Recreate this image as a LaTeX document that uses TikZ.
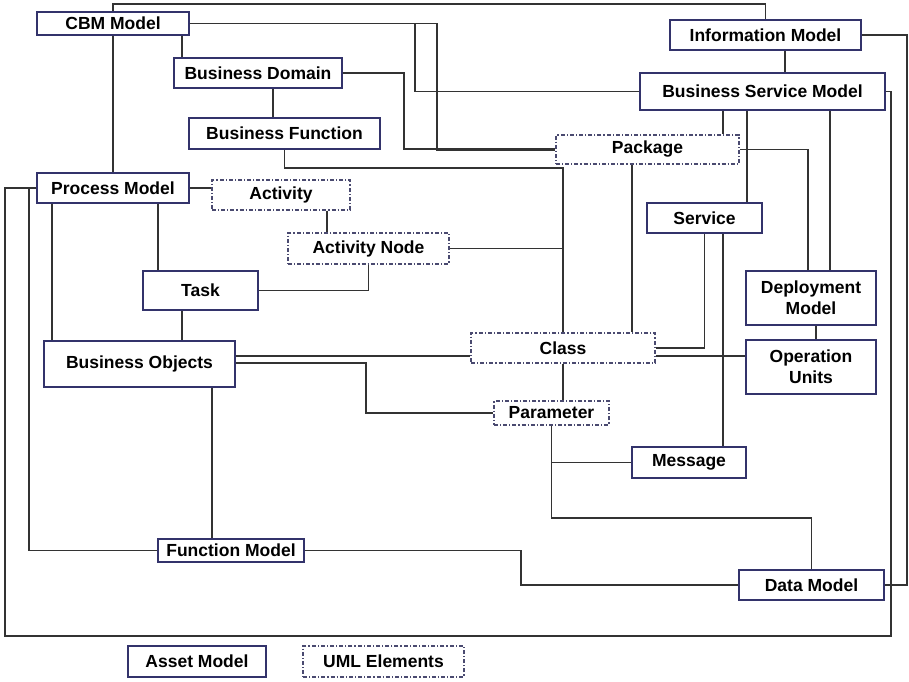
\documentclass[tikz,border=0pt]{standalone}
\usepackage{fontspec}
\setmainfont{Liberation Sans}
\definecolor{boxc}{HTML}{33336B}
\definecolor{dashc}{HTML}{4A4A70}
\definecolor{linec}{HTML}{333333}
\begin{document}
\begin{tikzpicture}[x=1pt,y=-1pt,
  base/.style={fill=white,inner sep=0pt,align=center,font=\bfseries\fontsize{17.5}{21}\selectfont},
  asset/.style={base,draw=boxc,line width=1.2pt},
  uml/.style={base,draw=dashc,line width=1.1pt,dash pattern=on 4pt off 2pt on 1.2pt off 2pt},
  conn/.style={draw=linec,line width=1.2pt},
  sz/.style 2 args={minimum width=#1,minimum height=#2}]
\useasboundingbox (0,0) rectangle (909,681);
% nodes
\node[asset,sz={152}{23}] (cbm) at (113,23.5) {CBM Model};
\node[asset,sz={168}{30}] (bdom) at (258,73) {Business Domain};
\node[asset,sz={191}{31}] (bfun) at (284.5,133.5) {Business Function};
\node[asset,sz={152}{30}] (proc) at (113,188) {Process Model};
\node[uml,sz={138}{30}] (act) at (281,195) {Activity};
\node[uml,sz={161}{31}] (actn) at (368.5,248.5) {Activity Node};
\node[asset,sz={115}{39}] (task) at (200.5,290.5) {Task};
\node[asset,sz={191}{46}] (bobj) at (139.5,364) {Business Objects};
\node[asset,sz={191}{30}] (info) at (765.5,35) {Information Model};
\node[asset,sz={245}{37}] (bsm) at (762.5,91.5) {Business Service Model};
\node[uml,sz={183}{29}] (pkg) at (647.5,149.5) {Package};
\node[asset,sz={115}{30}] (svc) at (704.5,218) {Service};
\node[asset,sz={130}{54}] (dep) at (811,298) {Deployment\\Model};
\node[asset,sz={130}{54}] (opu) at (811,367) {Operation\\Units};
\node[uml,sz={184}{30}] (cls) at (563,348) {Class};
\node[uml,sz={115}{24}] (par) at (551.5,413) {Parameter};
\node[asset,sz={114}{31}] (msg) at (689,462.5) {Message};
\node[asset,sz={145}{30}] (data) at (811.5,585) {Data Model};
\node[asset,sz={146}{23}] (fun) at (231,550.5) {Function Model};
\node[asset,sz={138}{31}] (assetm) at (197,661.5) {Asset Model};
\node[uml,sz={161}{31}] (umle) at (383.5,661.5) {UML Elements};
% connectors
\begin{scope}[conn]
\draw (cbm.north) -- (cbm.north |- 0,4) -| (info.north);
\draw (cbm.south) -- (proc.north);
\draw (cbm.east) -| (415,91.5) -- (bsm.west);
\draw (cbm.east) -| (437,150.5) -- (pkg.west |- 0,150.5);
\draw (cbm.south -| 182,0) -- (bdom.north -| 182,0);
\draw (bdom.south -| 273,0) -- (bfun.north -| 273,0);
\draw (bdom.east) -| (404,149) -- (pkg.west |- 0,149);
\draw (bfun.south) |- (563,168) -- (cls.north);
\draw (actn.east) -- (actn.east -| cls.north);
\draw (pkg.south -| 632,0) -- (cls.north -| 632,0);
\draw (info.south -| 785,0) -- (bsm.north -| 785,0);
\draw (bsm.south -| 723,0) -- (pkg.north -| 723,0);
\draw (bsm.south -| 747,0) -- (svc.north -| 747,0);
\draw (bsm.south -| 830,0) -- (dep.north -| 830,0);
\draw (pkg.east) -| (dep.north -| 808,0);
\draw (bsm.east) -| (891,636) -| (5,188) -- (proc.west);
\draw (info.east) -| (907,585) -- (data.east);
\draw (proc.west) -| (29,550.5) -- (fun.west);
\draw (proc.east) -- (proc.east -| act.west);
\draw (act.south -| 327,0) -- (actn.north -| 327,0);
\draw (actn.south) |- (task.east);
\draw (proc.south -| 158,0) -- (task.north -| 158,0);
\draw (proc.south -| 52,0) -- (bobj.north -| 52,0);
\draw (task.south -| 182,0) -- (bobj.north -| 182,0);
\draw (bobj.east |- 0,356) -- (cls.west |- 0,356);
\draw (bobj.east |- 0,363) -| (366,413) -- (par.west);
\draw (bobj.south -| 212,0) -- (fun.north -| 212,0);
\draw (fun.east) -| (521,585) -- (data.west);
\draw (cls.south) -- (cls.south |- par.north);
\draw (cls.east) -| (svc.south);
\draw (cls.east |- 0,356) -- (opu.west |- 0,356);
\draw (svc.south -| 723,0) -- (msg.north -| 723,0);
\draw (dep.south -| 816,0) -- (opu.north -| 816,0);
\draw (par.south) |- (msg.west);
\draw (par.south) |- (data.north |- 0,518) -- (data.north);
\end{scope}
\end{tikzpicture}
\end{document}
